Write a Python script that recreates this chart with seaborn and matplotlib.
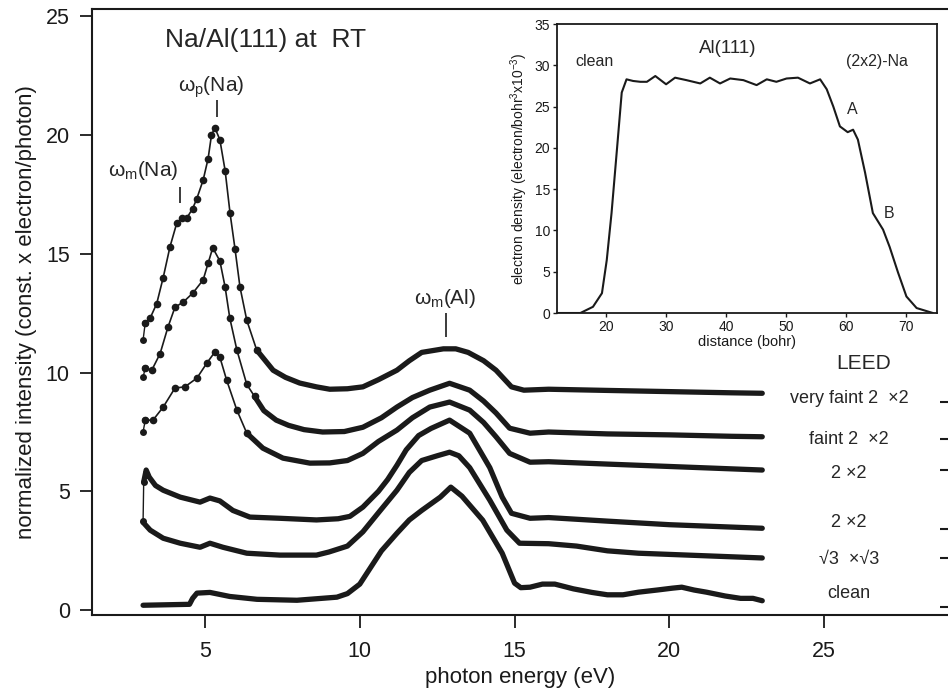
import numpy as np
import pandas as pd
import matplotlib
matplotlib.use('Agg')
import matplotlib.pyplot as plt
import seaborn as sns

# photon energy (eV) / normalized intensity, top to bottom
e1 = [3.0, 3.07, 3.23, 3.44, 3.65, 3.87, 4.09, 4.25, 4.41, 4.6, 4.73, 4.94, 5.1, 5.21, 5.32, 5.48,
      5.65, 5.81, 5.97, 6.13, 6.35, 6.67, 7.2, 7.6, 8.06, 8.6, 9.03, 9.6, 10.1, 10.6, 11.2, 11.6,
      12.0, 12.7, 13.1, 13.5, 14.0, 14.4, 14.9, 15.3, 16.1, 18.0, 20.0, 22.0, 23.0]
i1 = [11.37, 12.1, 12.3, 12.9, 14.0, 15.3, 16.3, 16.5, 16.5, 16.9, 17.3, 18.1, 19.0, 20.0, 20.3, 19.8,
      18.5, 16.7, 15.2, 13.6, 12.2, 10.95, 10.1, 9.8, 9.56, 9.4, 9.3, 9.32, 9.4, 9.7, 10.1, 10.5,
      10.85, 11.0, 11.0, 10.85, 10.5, 10.1, 9.4, 9.26, 9.3, 9.25, 9.2, 9.15, 9.13]

e2 = [3.0, 3.07, 3.28, 3.55, 3.8, 4.03, 4.3, 4.61, 4.94, 5.1, 5.25, 5.48, 5.65, 5.8, 6.03, 6.35,
      6.6, 6.9, 7.3, 7.7, 8.2, 8.8, 9.5, 10.1, 10.7, 11.2, 11.7, 12.26, 12.9, 13.55, 14.0, 14.4,
      14.84, 15.5, 16.1, 18.0, 20.0, 22.0, 23.0]
i2 = [9.8, 10.2, 10.1, 10.8, 11.9, 12.75, 12.97, 13.35, 13.9, 14.6, 15.25, 14.7, 13.6, 12.3, 10.95, 9.5,
      9.0, 8.4, 8.0, 7.78, 7.6, 7.5, 7.52, 7.7, 8.1, 8.55, 8.95, 9.26, 9.55, 9.26, 8.8, 8.3,
      7.66, 7.45, 7.5, 7.42, 7.38, 7.32, 7.3]

e3 = [3.0, 3.07, 3.32, 3.65, 4.03, 4.35, 4.74, 5.06, 5.32, 5.48, 5.7, 6.03, 6.35, 6.87, 7.52, 8.39,
      9.03, 9.6, 10.1, 10.6, 11.2, 11.7, 12.26, 12.9, 13.55, 14.0, 14.4, 14.84, 15.5, 16.1, 18.0,
      20.0, 22.0, 23.0]
i3 = [7.5, 8.0, 8.0, 8.55, 9.35, 9.4, 9.77, 10.4, 10.87, 10.65, 9.68, 8.42, 7.45, 6.82, 6.4, 6.19,
      6.2, 6.3, 6.6, 7.1, 7.58, 8.1, 8.55, 8.76, 8.42, 7.9, 7.3, 6.6, 6.23, 6.25, 6.15,
      6.05, 5.95, 5.9]

e4 = [3.0, 3.02, 3.1, 3.2, 3.4, 3.65, 4.2, 4.84, 5.16, 5.48, 5.9, 6.45, 7.42, 8.6, 9.3, 9.68,
      10.1, 10.6, 10.9, 11.2, 11.5, 11.9, 12.3, 12.9, 13.55, 14.2, 14.6, 14.9, 15.5, 16.1, 18.0, 20.0,
      22.0, 23.0]
i4 = [3.75, 5.4, 5.9, 5.6, 5.25, 5.05, 4.76, 4.55, 4.72, 4.6, 4.2, 3.92, 3.87, 3.8, 3.85, 3.95,
      4.34, 5.0, 5.5, 6.1, 6.75, 7.35, 7.65, 8.0, 7.45, 6.0, 4.76, 4.08, 3.87, 3.9, 3.75, 3.6,
      3.5, 3.45]

e5 = [3.0, 3.23, 3.65, 4.2, 4.84, 5.16, 5.58, 6.35, 7.42, 8.6, 9.0, 9.6, 10.1, 10.6, 11.2, 11.6,
      12.0, 12.5, 12.9, 13.2, 13.55, 14.2, 14.75, 15.16, 16.1, 17.0, 18.0, 19.0, 20.0, 21.0, 22.0, 23.0]
i5 = [3.7, 3.37, 3.03, 2.82, 2.65, 2.82, 2.65, 2.4, 2.32, 2.32, 2.45, 2.7, 3.3, 4.1, 5.05, 5.8,
      6.3, 6.5, 6.65, 6.5, 6.0, 4.63, 3.37, 2.82, 2.8, 2.7, 2.5, 2.4, 2.35, 2.3, 2.25, 2.2]

e6 = [3.0, 4.5, 4.6, 4.74, 5.16, 5.8, 6.68, 7.97, 9.26, 9.6, 10.0, 10.3, 10.7, 11.2, 11.6, 12.0,
      12.6, 12.94, 13.3, 13.97, 14.6, 15.0, 15.2, 15.5, 15.9, 16.3, 16.9, 17.5, 18.0, 18.5, 19.0,
      19.6, 20.1, 20.4, 20.8, 21.2, 21.8, 22.3, 22.7, 23.0]
i6 = [0.21, 0.25, 0.5, 0.72, 0.75, 0.58, 0.46, 0.42, 0.55, 0.7, 1.1, 1.7, 2.5, 3.24, 3.8, 4.2,
      4.76, 5.18, 4.8, 3.79, 2.4, 1.14, 0.95, 0.97, 1.1, 1.1, 0.9, 0.75, 0.65, 0.65, 0.76,
      0.85, 0.93, 0.97, 0.85, 0.76, 0.6, 0.5, 0.5, 0.4]

energies = [e1, e2, e3, e4, e5, e6]
intensities = [i1, i2, i3, i4, i5, i6]
leed_labels = ['very faint 2  \u00d72', 'faint 2  \u00d72', '2 \u00d72', '2 \u00d72',
               '\u221a3  \u00d7\u221a3', 'clean']
leed_label_y = [8.93, 7.2, 5.77, 3.7, 2.15, 0.72]
leed_marks = [8.76, 7.2, 5.9, 3.41, 2.19, 0.13]

# inset: electron density profile
dist = [11.8, 15.7, 17.8, 19.3, 20.1, 20.9, 21.8, 22.6, 23.4, 24.5, 25.7, 26.8, 28.2, 30.0, 31.5,
        33.4, 35.7, 37.3, 39.0, 40.7, 42.9, 45.1, 46.8, 48.4, 50.1, 52.0, 54.0, 55.7, 56.8, 57.9,
        59.0, 60.3, 61.2, 62.0, 63.2, 64.5, 66.2, 67.3, 68.7, 70.1, 71.8, 74.5]
density = [0.0, 0.0, 0.75, 2.4, 6.4, 12.1, 19.8, 26.7, 28.3, 28.1, 28.0, 28.0, 28.7, 27.7, 28.5,
           28.2, 27.8, 28.5, 27.8, 28.4, 28.2, 27.6, 28.3, 28.0, 28.4, 28.5, 27.8, 28.3, 27.1, 25.0,
           22.6, 21.9, 22.2, 21.0, 17.0, 12.1, 10.1, 8.0, 4.9, 2.0, 0.6, 0.0]

sns.set_theme(style='ticks')
plt.rcParams['font.family'] = ['Liberation Sans', 'DejaVu Sans']
plt.rcParams['mathtext.fontset'] = 'custom'
plt.rcParams['mathtext.rm'] = 'Liberation Sans'
plt.rcParams['mathtext.it'] = 'Liberation Sans'
plt.rcParams['mathtext.bf'] = 'Liberation Sans:bold'

fig = plt.figure(figsize=(9.48, 6.92), dpi=100)
ax = fig.add_axes([92 / 948, 1 - 615 / 692, 1 - 92 / 948, 606 / 692])

for k, (e, i) in enumerate(zip(energies, intensities)):
    df = pd.DataFrame({'energy': e, 'intensity': i})
    rest = df
    if k < 4:
        # first point of these scans sits a bit low, joined by a thin line
        sns.lineplot(data=df.iloc[:2], x='energy', y='intensity', color='k', lw=1,
                     marker='o', ms=5, mew=0, estimator=None, sort=False, ax=ax)
        rest = df.iloc[1:]
    if k < 3:
        # sparse dots on the Na peaks of the upper scans
        na = rest[rest['energy'] <= 6.7]
        sns.lineplot(data=na, x='energy', y='intensity', color='k', lw=1.2,
                     marker='o', ms=5.5, mew=0, estimator=None, sort=False, ax=ax)
        rest = rest[rest['energy'] >= na['energy'].max()]
    sns.lineplot(data=rest, x='energy', y='intensity', color='k', lw=3.8,
                 estimator=None, sort=False, ax=ax)

ax.hlines(leed_marks, 28.75, 29.0, color='k', lw=1.5)

ax.set_xlim(1.35, 29.0)
ax.set_ylim(-0.2, 25.3)
ax.set_xticks([5, 10, 15, 20, 25])
ax.set_yticks([0, 5, 10, 15, 20, 25])
ax.tick_params(direction='out', length=9, width=1.3, labelsize=15.5, color='k', labelcolor='k', pad=7)
ax.tick_params(axis='x', pad=10)
for s in ['left', 'bottom', 'top']:
    ax.spines[s].set_linewidth(1.5)
    ax.spines[s].set_color('k')
ax.spines['right'].set_visible(False)
ax.set_xlabel('photon energy (eV)', fontsize=16, color='k', labelpad=3)
ax.set_ylabel('normalized intensity (const. x electron/photon)', fontsize=16, color='k', labelpad=6)

ax.text(3.71, 24.0, 'Na/Al(111) at  RT', fontsize=19, va='center', ha='left')
ax.text(5.2, 22.0, r'$\omega_p$(Na)', fontsize=15, ha='center', va='center')
ax.vlines(5.39, 20.76, 21.47, color='k', lw=1.2)
ax.text(3.0, 18.5, r'$\omega_m$(Na)', fontsize=15, ha='center', va='center')
ax.vlines(4.19, 17.14, 17.8, color='k', lw=1.2)
ax.text(12.74, 13.1, r'$\omega_m$(Al)', fontsize=15, ha='center', va='center')
ax.vlines(12.8, 11.5, 12.5, color='k', lw=1.2)

ax.text(26.26, 10.4, 'LEED', fontsize=15, ha='center', va='center')
for lab, yy in zip(leed_labels, leed_label_y):
    ax.text(25.8, yy, lab, fontsize=13, ha='center', va='center')

# inset
ins = fig.add_axes([557 / 948, 1 - 313 / 692, 380 / 948, 289 / 692])
sns.lineplot(x=dist, y=density, color='k', lw=1.5, estimator=None, sort=False, ax=ins)
ins.set_xlim(11.8, 75.2)
ins.set_ylim(0, 35)
ins.set_xticks([20, 30, 40, 50, 60, 70])
ins.set_yticks([0, 5, 10, 15, 20, 25, 30, 35])
ins.tick_params(direction='out', length=3, width=1, labelsize=10, pad=2, color='k', labelcolor='k')
for s in ins.spines.values():
    s.set_linewidth(1.3)
    s.set_color('k')
ins.set_xlabel('distance (bohr)', fontsize=10.5, labelpad=1, color='k')
ins.set_ylabel(r'electron density (electron/bohr$^3$x10$^{-3}$)', fontsize=10, labelpad=3, color='k')
ins.text(14.8, 30.5, 'clean', fontsize=11.5, va='center')
ins.text(40.2, 32.0, 'Al(111)', fontsize=13.5, ha='center', va='center')
ins.text(60.0, 30.5, '(2x2)-Na', fontsize=11.5, va='center')
ins.text(61.0, 24.7, 'A', fontsize=11.5, ha='center', va='center')
ins.text(67.2, 12.1, 'B', fontsize=11.5, ha='center', va='center')

fig.savefig('out.png', dpi=100)
